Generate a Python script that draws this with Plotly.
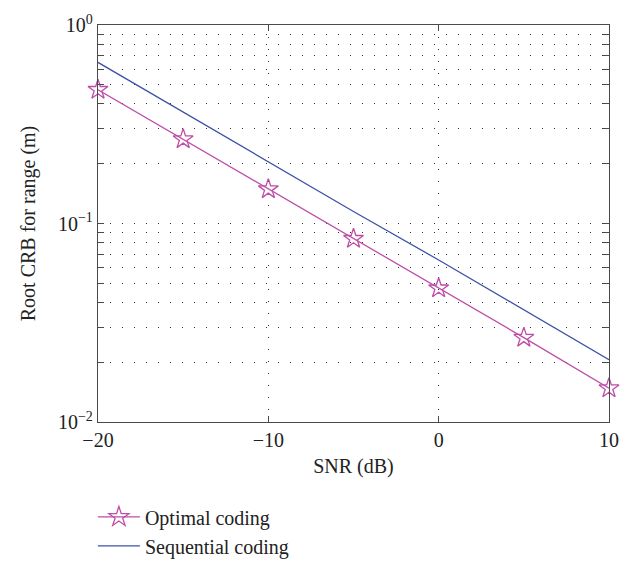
import plotly.graph_objects as go

# SNR sample points (dB)
snr_db = [-20, -15, -10, -5, 0, 5, 10]

# Root CRB for range (m)
optimal_crb = [0.472, 0.266, 0.149, 0.0838, 0.0472, 0.0266, 0.0148]
sequential_crb = [0.648, 0.364, 0.205, 0.115, 0.0655, 0.0367, 0.0206]

# Axis ticks
x_ticks = [-20, -10, 0, 10]
x_ticklabels = ["\u221220", "\u221210", "0", "10"]
y_decades = [0.01, 0.1, 1.0]
y_decade_labels = ["10<sup>\u22122</sup>", "10<sup>\u22121</sup>", "10<sup>0</sup>"]

# Decade ticks plus unlabeled 2..9 ticks so every minor level gets a grid line
y_tickvals, y_ticktext = [], []
for d, lab in zip(y_decades, y_decade_labels):
    y_tickvals.append(d)
    y_ticktext.append(lab)
    if d < 1.0:
        for m in range(2, 10):
            y_tickvals.append(m * d)
            y_ticktext.append("")

magenta = "#BE4DA8"
blue = "#3B53A6"
axis_col = "#4a4a4a"
font_family = "Liberation Serif, Times New Roman, serif"

fig = go.Figure()
fig.add_trace(go.Scatter(
    x=snr_db, y=optimal_crb, mode="lines+markers", name="Optimal coding",
    line=dict(color=magenta, width=1.3), cliponaxis=False,
    marker=dict(symbol="star-open", size=15, color=magenta, line=dict(width=1.3, color=magenta)),
))
fig.add_trace(go.Scatter(
    x=snr_db, y=sequential_crb, mode="lines", name="Sequential coding",
    line=dict(color=blue, width=1.3),
))

grid_common = dict(gridcolor="#333333", gridwidth=1, griddash="1px,11px")

fig.update_layout(
    width=639, height=577,
    margin=dict(l=98, r=30, t=18, b=136),
    paper_bgcolor="white", plot_bgcolor="white",
    font=dict(family=font_family, size=20, color="#222222"),
    showlegend=True,
    legend=dict(
        x=-0.01, y=-0.19, xanchor="left", yanchor="top",
        bgcolor="rgba(0,0,0,0)", font=dict(size=20),
        tracegroupgap=0, itemwidth=42,
    ),
    xaxis=dict(
        range=[-20, 10], tickvals=x_ticks, ticktext=x_ticklabels,
        showline=True, linecolor=axis_col, linewidth=1.3, mirror="ticks",
        ticks="inside", ticklen=6, tickcolor=axis_col, tickwidth=1,
        showgrid=True, zeroline=False,
        title=dict(text="SNR (dB)", font=dict(size=20), standoff=8),
        **grid_common,
    ),
    yaxis=dict(
        type="log", range=[-2, 0], tickvals=y_tickvals, ticktext=y_ticktext,
        showline=True, linecolor=axis_col, linewidth=1.3, mirror="ticks",
        ticks="inside", ticklen=6, tickcolor=axis_col, tickwidth=1,
        showgrid=True, zeroline=False,
        title=dict(text="Root CRB for range (m)", font=dict(size=20), standoff=16),
        **grid_common,
    ),
)

fig.write_html("out.html")
